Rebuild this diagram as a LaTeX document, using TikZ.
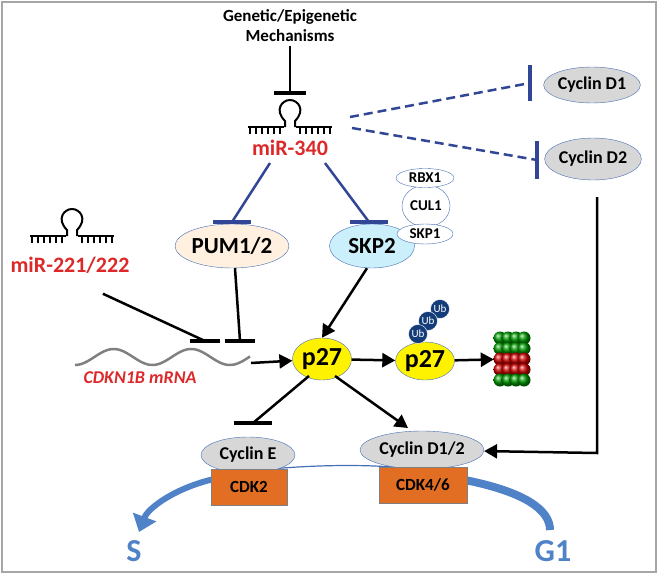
\documentclass[tikz,border=0pt]{standalone}
\usepackage{fontspec}
\setmainfont{Carlito}
\usetikzlibrary{arrows.meta,shapes.geometric}
\definecolor{mirred}{RGB}{220,40,40}
\definecolor{inhblue}{RGB}{50,70,150}
\definecolor{cycgray}{RGB}{215,215,215}
\definecolor{edgeblue}{RGB}{70,110,180}
\definecolor{cdkorange}{RGB}{225,110,35}
\definecolor{phaseblue}{RGB}{80,130,200}
\definecolor{ubblue}{RGB}{20,60,120}
\tikzset{
  prot/.style={draw=edgeblue, ellipse, inner sep=0pt, font=\bfseries\fontsize{18}{18}\selectfont},
  cdk/.style={draw=gray, fill=cdkorange, minimum width=76pt, minimum height=36pt, font=\bfseries\fontsize{17}{17}\selectfont},
  act/.style={line width=2.5pt, -{Triangle[length=13pt,width=14pt]}},
  inh/.style={line width=2.5pt},
  hbar/.style={line width=3.5pt},
  hairpin/.pic={
    \draw[line width=1.6pt] (-42,0) -- (-6,0) (6,0) -- (42,0);
    \foreach \t in {-40,-34,...,-8} \draw[line width=1.3pt] (\t,0) -- (\t,7);
    \foreach \t in {10,16,...,40} \draw[line width=1.3pt] (\t,0) -- (\t,7);
    \draw[line width=2pt] (-5,0) -- (-5,-6) .. controls (-16,-17) and (-8,-27) .. (0,-27)
      .. controls (8,-27) and (16,-17) .. (5,-6) -- (5,0);
  }
}
\begin{document}
\begin{tikzpicture}[x=1pt, y=-1pt]
\useasboundingbox (0,0) rectangle (657,573);
\draw[gray!70, line width=2pt] (1.5,1.5) rectangle (655.5,571.5);

% miR-340 and its upstream control
\node[font=\bfseries\fontsize{17}{20}\selectfont, align=center] (gen) at (290,26) {Genetic/Epigenetic\\Mechanisms};
\pic at (290,127) {hairpin};
\coordinate (mirtop) at (290,93);
\node[text=mirred, font=\bfseries\fontsize{22}{22}\selectfont] (mir340) at (290,148) {miR-340};
\draw[inh] (gen) -- (mirtop);
\draw[hbar] (mirtop) ++(-16,0) -- ++(32,0);

% cyclin D targets
\node[prot, fill=cycgray, minimum width=94pt, minimum height=36pt] (cycd1) at (592,85) {Cyclin D1};
\node[prot, fill=cycgray, minimum width=94pt, minimum height=42pt] (cycd2) at (593,159) {Cyclin D2};
\coordinate (d1bar) at (530,83);
\coordinate (d2bar) at (537,160);
\coordinate (m1) at (350,117);
\coordinate (m2) at (352,128);
\draw[inhblue, line width=2.5pt, dash pattern=on 9pt off 5pt] (m1) -- (d1bar);
\draw[inhblue, hbar] (d1bar) ++(0,-18) -- ++(0,36);
\draw[inhblue, line width=2.5pt, dash pattern=on 9pt off 5pt] (m2) -- (d2bar);
\draw[inhblue, hbar] (d2bar) ++(0,-19) -- ++(0,38);

% PUM1/2 and SKP2
\node[prot, fill=orange!12, minimum width=80pt, minimum height=44pt, font=\bfseries\fontsize{23}{23}\selectfont] (pum) at (232,246) {PUM1/2};
\node[prot, fill=cyan!20, minimum width=85pt, minimum height=44pt, font=\bfseries\fontsize{23}{23}\selectfont] (skp2) at (372,246) {SKP2};
\node[prot, fill=white, minimum width=48pt, minimum height=42pt, font=\bfseries\fontsize{15}{15}\selectfont] (cul1) at (426,206) {CUL1};
\node[prot, fill=white, minimum width=58pt, minimum height=19pt, font=\bfseries\fontsize{15}{15}\selectfont] (rbx1) at (425,178) {RBX1};
\node[prot, fill=white, minimum width=56pt, minimum height=20pt, font=\bfseries\fontsize{15}{15}\selectfont] (skp1) at (425,234) {SKP1};
\coordinate (ml) at (270,163);
\coordinate (mr) at (325,163);
\coordinate (pumbar) at (232,222);
\coordinate (skpbar) at (369,222);
\draw[inhblue, inh] (ml) -- (pumbar);
\draw[inhblue, hbar] (pumbar) ++(-19,0) -- ++(38,0);
\draw[inhblue, inh] (mr) -- (skpbar);
\draw[inhblue, hbar] (skpbar) ++(-19,0) -- ++(38,0);

% miR-221/222
\pic at (72,236) {hairpin};
\node[text=mirred, font=\bfseries\fontsize{22}{22}\selectfont] (mir221) at (70,265) {miR-221/222};

% CDKN1B mRNA
\draw[gray, line width=2.5pt] plot[domain=75:250, samples=100, smooth] (\x, {357+8*cos(4.65*(\x-75))});
\coordinate (mrna) at (251,363);
\node[text=mirred, font=\bfseries\itshape\fontsize{18}{18}\selectfont] (mrnatxt) at (140,378) {CDKN1B mRNA};
\coordinate (bar1) at (205,341);
\coordinate (bar2) at (240,341);
\draw[inh] (mir221.south east) ++(-30,17) -- (bar1);
\draw[hbar] (bar1) ++(-15,0) -- ++(30,0);
\draw[inh] (pum.south) ++(3,0) -- (bar2);
\draw[hbar] (bar2) ++(-15,0) -- ++(30,0);

% p27 and its degradation
\node[prot, draw=edgeblue, fill=yellow, minimum width=59pt, minimum height=42pt, font=\bfseries\fontsize{26}{26}\selectfont] (p27) at (322,359) {p27};
\node[prot, draw=edgeblue, fill=yellow, minimum width=59pt, minimum height=38pt, font=\bfseries\fontsize{26}{26}\selectfont] (p27ub) at (425,361) {p27};
\foreach \u/\px/\py in {ub3/440/309, ub2/428/321, ub1/418/334}
  \node[circle, fill=ubblue, draw=white, inner sep=0pt, minimum size=19pt, text=white, font=\fontsize{11}{11}\selectfont] (\u) at (\px,\py) {Ub};
\node[minimum width=36pt, minimum height=52pt, inner sep=0pt] (proteasome) at (512,359) {};
\foreach \r/\c in {0/green!60!black, 1/green!60!black, 2/red!80!black, 3/red!80!black, 4/green!60!black}
  \foreach \k in {0,...,3}
    \shade[ball color=\c] (500+\k*8,338+\r*10.5) circle (6.5pt);
\draw[act] (mrna) -- (p27);
\draw[act] (skp2.south) ++(-5,0) -- (p27.north);
\draw[act] (p27) -- (p27ub);
\draw[act] (p27ub) -- (proteasome);

% cyclin/CDK complexes and the cell cycle
\draw[edgeblue, line width=1.2pt] (260,470) .. controls (320,464) and (380,464) .. (420,470);
\draw[phaseblue, line width=6pt, -{Triangle[length=16pt,width=24pt]}] (214,479) .. controls (175,488) and (148,508) .. (139,532);
\draw[phaseblue, line width=8pt] (465,480) .. controls (525,492) and (550,510) .. (550,530);
\node[prot, fill=cycgray, minimum width=94pt, minimum height=36pt] (cyce) at (248,455) {Cyclin E};
\node[prot, fill=cycgray, minimum width=124pt, minimum height=38pt] (cycd12) at (422,450) {Cyclin D1/2};
\node[cdk] (cdk2) at (249,487) {CDK2};
\node[cdk, minimum width=88pt] (cdk46) at (423,485) {CDK4/6};
\node[text=phaseblue, font=\bfseries\fontsize{32}{32}\selectfont] (s) at (134,551) {S};
\node[text=phaseblue, font=\bfseries\fontsize{32}{32}\selectfont] (g1) at (553,551) {G1};
\coordinate (cebar) at (253,423);
\draw[inh] (p27.south west) ++(8,2) -- (cebar);
\draw[hbar] (cebar) ++(-19,0) -- ++(38,0);
\draw[act] (p27.south east) ++(-8,2) -- (408,428);
\coordinate (turn) at (597,453);
\draw[line width=2.5pt, -{Triangle[length=13pt,width=14pt]}] (cycd2.south) ++(4,17) -- (turn) -- (cycd12);
\end{tikzpicture}
\end{document}
